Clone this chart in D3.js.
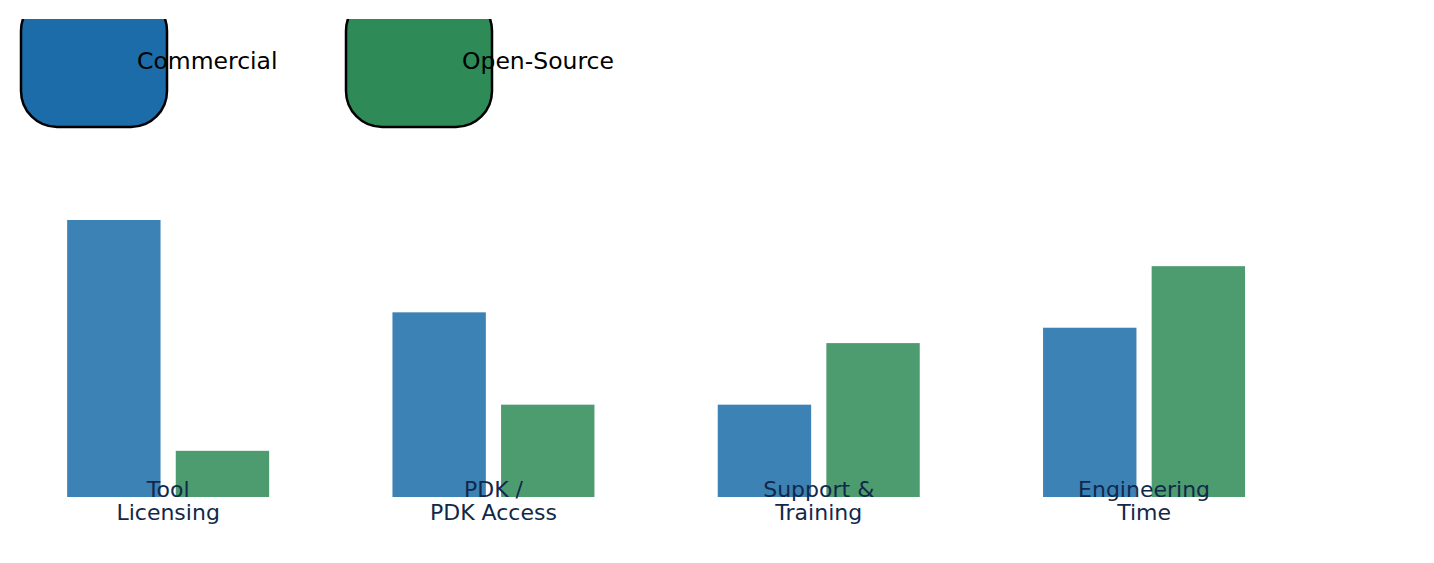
<!DOCTYPE html>
<html>
<head>
<meta charset="utf-8">
<script src="https://cdn.jsdelivr.net/npm/d3@7"></script>
<style>
  html, body { margin: 0; padding: 0; background: #fff; }
  svg { display: block; font-family: "DejaVu Sans", sans-serif; }
</style>
</head>
<body>
<svg id="graph"></svg>
<script>
const categories = ["Tool\nLicensing", "PDK /\nPDK Access", "Support &\nTraining", "Engineering\nTime"];
const seriesNames = ["Commercial", "Open-Source"];
const commercial = [18, 12, 6, 11];
const openSource = [3, 6, 10, 15];
const colors = ["#1b6ca8", "#2e8b57"];

const width = 1434;
const height = 563;
const baseline = 497;

const svg = d3.select("#graph").attr("width", width).attr("height", height);

const x0 = d3.scaleBand()
  .domain(d3.range(categories.length))
  .range([5.5, 1306.7])
  .padding(0);

const x1 = d3.scaleBand()
  .domain(seriesNames)
  .range([-101, 101])
  .paddingInner(0.14)
  .paddingOuter(0);

const y = d3.scaleLinear()
  .domain([0, 18])
  .range([baseline, 220]);

const rows = categories.map((c, i) => ({ i, values: [commercial[i], openSource[i]] }));

svg.append("g")
  .selectAll("g")
  .data(rows)
  .join("g")
  .attr("transform", d => `translate(${x0(d.i) + x0.bandwidth() / 2},0)`)
  .selectAll("rect")
  .data(d => d.values.map((v, k) => ({ key: seriesNames[k], v, k })))
  .join("rect")
  .attr("x", d => x1(d.key))
  .attr("y", d => y(d.v))
  .attr("width", x1.bandwidth())
  .attr("height", d => y(0) - y(d.v))
  .attr("fill", d => colors[d.k])
  .attr("fill-opacity", 0.85);

// category labels, drawn without axis line or ticks
const axis = svg.append("g")
  .attr("transform", `translate(0,${baseline})`)
  .call(d3.axisBottom(x0).tickSize(0).tickPadding(0).tickFormat(""));
axis.select(".domain").remove();
axis.selectAll(".tick").append("text")
  .attr("fill", "#12284a")
  .attr("text-anchor", "middle")
  .style("font-size", "22px")
  .style("font-family", "DejaVu Sans, sans-serif")
  .selectAll("tspan")
  .data(i => categories[i].split("\n"))
  .join("tspan")
  .attr("x", 0)
  .attr("y", (d, j) => j * 23.3)
  .text(d => d);

// legend, clipped at the top like the original
svg.append("clipPath").attr("id", "legclip")
  .append("rect").attr("x", 0).attr("y", 19).attr("width", width).attr("height", height);

const legend = svg.append("g").attr("clip-path", "url(#legclip)")
  .selectAll("g")
  .data(seriesNames)
  .join("g")
  .attr("transform", (d, i) => `translate(${21 + i * 325},0)`);

legend.append("rect")
  .attr("x", 0)
  .attr("y", -5)
  .attr("width", 146)
  .attr("height", 132)
  .attr("rx", 36)
  .attr("fill", (d, i) => colors[i])
  .attr("stroke", "#000")
  .attr("stroke-width", 2.5);

legend.append("text")
  .attr("x", 116)
  .attr("y", 69)
  .style("font-size", "23.5px")
  .attr("fill", "#000")
  .text(d => d);
</script>
</body>
</html>
